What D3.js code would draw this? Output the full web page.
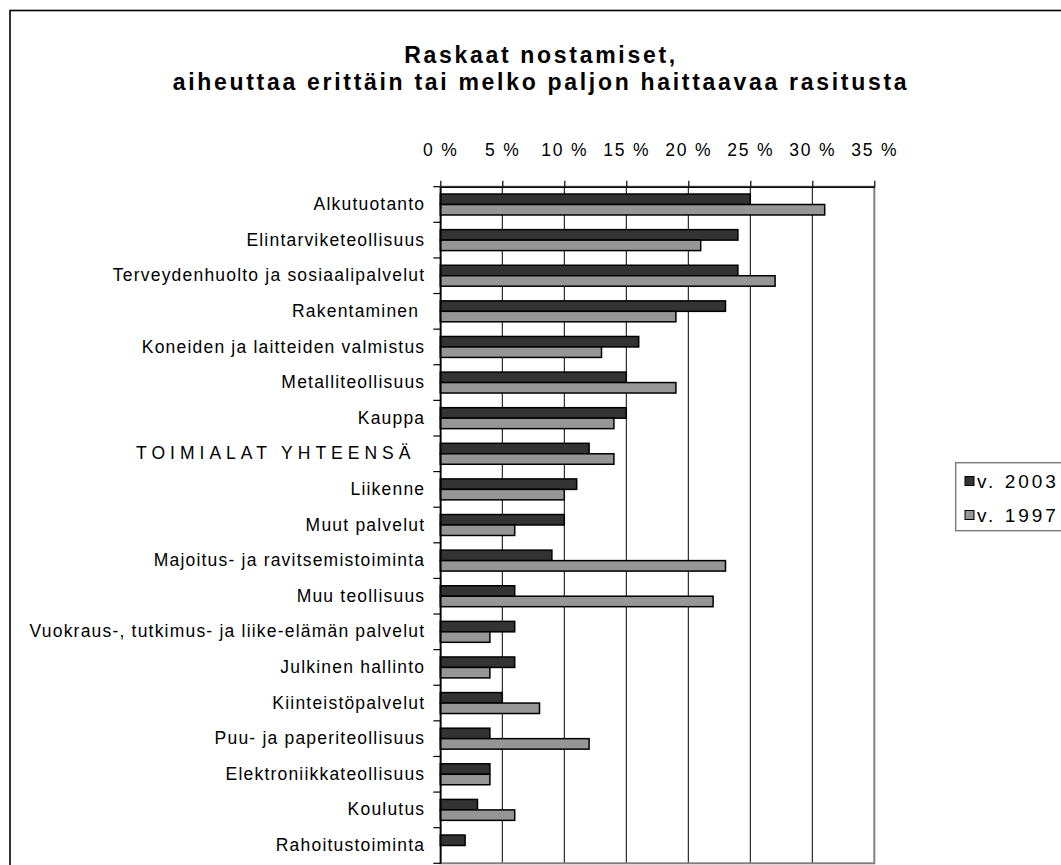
<!DOCTYPE html>
<html>
<head>
<meta charset="utf-8">
<script src="https://cdn.jsdelivr.net/npm/d3@7"></script>
<style>
  html, body { margin: 0; padding: 0; background: #fff; }
  svg { display: block; font-family: "Liberation Sans", Arial, sans-serif; }
</style>
</head>
<body>
<svg id="chart" width="1061" height="865"></svg>
<script>
// Toimialat, ylhäältä alas
const categories = [
  "Alkutuotanto",
  "Elintarviketeollisuus",
  "Terveydenhuolto ja sosiaalipalvelut",
  "Rakentaminen ",
  "Koneiden ja laitteiden valmistus",
  "Metalliteollisuus",
  "Kauppa",
  "TOIMIALAT YHTEENSÄ ",
  "Liikenne",
  "Muut palvelut",
  "Majoitus- ja ravitsemistoiminta",
  "Muu teollisuus",
  "Vuokraus-, tutkimus- ja liike-elämän palvelut",
  "Julkinen hallinto",
  "Kiinteistöpalvelut",
  "Puu- ja paperiteollisuus",
  "Elektroniikkateollisuus",
  "Koulutus",
  "Rahoitustoiminta"
];

// Osuudet prosentteina
const values2003 = [25, 24, 24, 23, 16, 15, 15, 12, 11, 10, 9, 6, 6, 6, 5, 4, 4, 3, 2];
const values1997 = [31, 21, 27, 19, 13, 19, 14, 14, 10, 6, 23, 22, 4, 4, 8, 12, 4, 6, 0];

const seriesNames = ["v. 2003", "v. 1997"];
const seriesColors = ["#333333", "#969696"];

const tickValues = [0, 5, 10, 15, 20, 25, 30, 35];
const tickLabels = ["0 %", "5 %", "10 %", "15 %", "20 %", "25 %", "30 %", "35 %"];

const titleLines = [
  "Raskaat nostamiset,",
  "aiheuttaa erittäin tai melko paljon haittaavaa rasitusta"
];

const svg = d3.select("#chart");

// Kaavioalueen kehys
svg.append("rect")
  .attr("x", 10).attr("y", 10.5)
  .attr("width", 1100).attr("height", 900)
  .attr("fill", "#fff")
  .attr("stroke", "#000").attr("stroke-width", 1.6);

const plot = { left: 440.3, right: 874.3, top: 186.7, bottom: 863.3 };

const x = d3.scaleLinear().domain([0, 35]).range([plot.left, plot.right]);

const y = d3.scaleBand()
  .domain(categories)
  .range([plot.top, plot.bottom])
  .paddingInner(0).paddingOuter(0);

const inner = d3.scaleBand()
  .domain(seriesNames)
  .range([0, y.bandwidth()])
  .paddingInner(0)
  .paddingOuter(0.7);

// Otsikko
svg.append("g").selectAll("text")
  .data(titleLines)
  .join("text")
  .attr("x", 541)
  .attr("y", (d, i) => 63 + i * 27)
  .attr("text-anchor", "middle")
  .attr("font-size", 23)
  .attr("font-weight", "bold")
  .attr("letter-spacing", 2.7)
  .text(d => d);

// Pystysuorat apuviivat
svg.append("g").selectAll("line")
  .data(tickValues.slice(1, -1))
  .join("line")
  .attr("x1", d => x(d)).attr("x2", d => x(d))
  .attr("y1", plot.top).attr("y2", plot.bottom)
  .attr("stroke", "#000").attr("stroke-width", 1);

// Piirtoalueen reunus
svg.append("rect")
  .attr("x", plot.left).attr("y", plot.top)
  .attr("width", plot.right - plot.left)
  .attr("height", plot.bottom - plot.top)
  .attr("fill", "none")
  .attr("stroke", "#808080").attr("stroke-width", 2);

// Palkit
const rows = categories.map((c, i) => ({ cat: c, vals: [values2003[i], values1997[i]] }));
const groups = svg.append("g").selectAll("g")
  .data(rows)
  .join("g")
  .attr("transform", d => `translate(0,${y(d.cat)})`);

groups.selectAll("rect")
  .data(d => d.vals.map((v, j) => ({ v, s: seriesNames[j], c: seriesColors[j] })).filter(e => e.v > 0))
  .join("rect")
  .attr("x", x(0))
  .attr("y", d => inner(d.s))
  .attr("width", d => x(d.v) - x(0))
  .attr("height", inner.bandwidth())
  .attr("fill", d => d.c)
  .attr("stroke", "#000")
  .attr("stroke-width", 1.5);

// Yläakseli
const xAxis = d3.axisTop(x)
  .tickValues(tickValues)
  .tickFormat((d, i) => tickLabels[i])
  .tickSize(6)
  .tickSizeOuter(0)
  .tickPadding(25);

const gx = svg.append("g")
  .attr("transform", `translate(0,${plot.top})`)
  .call(xAxis);
gx.select(".domain").attr("stroke", "#000").attr("stroke-width", 1.5);
gx.selectAll(".tick line").attr("stroke", "#000").attr("stroke-width", 1.2);
gx.selectAll(".tick text")
  .attr("font-size", 17.5)
  .attr("letter-spacing", 1.8)
  .attr("fill", "#000")
  .attr("font-family", "Liberation Sans, Arial, sans-serif");

// Vasen akseli: nimikkeet kaistojen keskelle, merkit kaistojen rajoille
const yAxis = d3.axisLeft(y).tickSize(0).tickPadding(15).tickSizeOuter(0);
const gy = svg.append("g")
  .attr("transform", `translate(${plot.left},0)`)
  .call(yAxis);
gy.select(".domain").attr("stroke", "#000").attr("stroke-width", 1.5);
gy.selectAll(".tick text")
  .attr("font-size", 17.5)
  .attr("letter-spacing", d => d.startsWith("TOIMIALAT") ? 5.0 : 1.2)
  .attr("fill", "#000")
  .attr("font-family", "Liberation Sans, Arial, sans-serif")
  .style("white-space", "pre");

const boundaries = d3.range(categories.length + 1).map(i => plot.top + i * y.step());
svg.append("g").selectAll("line")
  .data(boundaries)
  .join("line")
  .attr("x1", plot.left - 7).attr("x2", plot.left)
  .attr("y1", d => d).attr("y2", d => d)
  .attr("stroke", "#000").attr("stroke-width", 1.2);

// Selite
const legend = svg.append("g");
legend.append("rect")
  .attr("x", 955.7).attr("y", 462.7)
  .attr("width", 130).attr("height", 68)
  .attr("fill", "#fff")
  .attr("stroke", "#808080").attr("stroke-width", 1.5);

const items = legend.selectAll("g.item")
  .data(seriesNames)
  .join("g")
  .attr("class", "item")
  .attr("transform", (d, i) => `translate(965,${481 + i * 34})`);

items.append("rect")
  .attr("x", 0).attr("y", -4.5)
  .attr("width", 9).attr("height", 9)
  .attr("fill", (d, i) => seriesColors[i])
  .attr("stroke", "#000").attr("stroke-width", 1);

items.append("text")
  .attr("x", 12)
  .attr("dy", "0.35em")
  .attr("font-size", 19)
  .attr("letter-spacing", 3)
  .text(d => d);
</script>
</body>
</html>
